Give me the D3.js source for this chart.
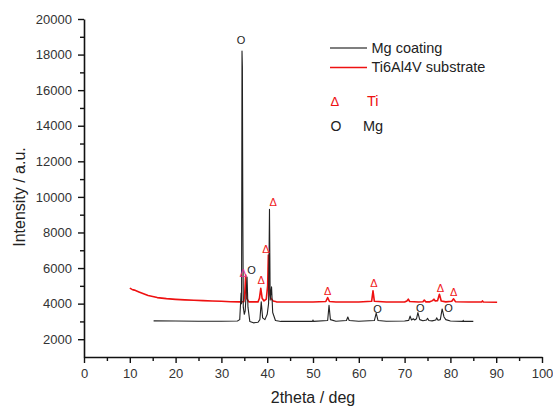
<!DOCTYPE html>
<html>
<head>
<meta charset="utf-8">
<script src="https://cdn.jsdelivr.net/npm/d3@7"></script>
<style>
  body { margin: 0; background: #fff; }
  svg { display: block; font-family: "Liberation Sans", Arial, sans-serif; }
</style>
</head>
<body>
<svg id="chart" width="553" height="407"></svg>
<script>
// ---- Data ----
const coatingTheta = [15.2, 20, 25, 30, 33.5, 34.0, 34.3, 34.4, 34.5, 34.58, 34.68, 34.78, 35.0, 35.2, 35.6, 35.8, 36.2, 37, 38.0, 38.4, 38.7, 39.0, 39.5, 40.0, 40.3, 40.5, 40.65, 40.95, 41.2, 41.8, 43, 49.9, 50.0, 50.1, 53.2, 53.5, 53.8, 55, 57.3, 57.6, 57.9, 60, 63.4, 63.8, 64.2, 66, 70, 70.9, 71.2, 71.5, 71.9, 72.2, 72.6, 72.9, 73.3, 74, 74.8, 75.0, 75.3, 76, 76.8, 77.0, 77.3, 77.8, 78.2, 78.6, 79.0, 80, 82.7, 82.8, 82.9, 85];
const coatingIntensity = [3030, 3020, 3010, 3010, 3020, 3100, 4600, 4000, 18200, 17300, 8800, 3800, 3400, 3600, 5500, 3800, 3000, 2920, 2950, 3100, 4100, 3200, 3100, 3400, 4000, 9300, 4200, 4950, 3500, 3050, 3000, 3000, 3080, 3000, 3050, 3900, 3100, 3010, 3050, 3250, 3050, 3010, 3050, 3470, 3050, 3010, 3020, 3060, 3300, 3080, 3150, 3080, 3150, 3500, 3100, 3040, 3080, 3180, 3050, 3030, 3080, 3200, 3070, 3100, 3700, 3250, 3100, 3020, 3000, 3060, 3000, 3000];

const substrateTheta = [10.0, 10.5, 11, 12, 13, 14, 15, 16, 17, 18, 20, 22, 24, 26, 28, 30, 32, 34, 34.9, 35.1, 35.3, 35.5, 36, 38, 38.3, 38.6, 38.9, 39.3, 39.8, 40.1, 40.25, 40.45, 40.8, 41.3, 42, 45, 50, 52.8, 53.2, 53.6, 55, 60, 62.8, 63.1, 63.4, 66, 70, 70.5, 70.8, 71.1, 73, 74.0, 74.3, 74.6, 75.5, 76.1, 76.4, 76.7, 77.2, 77.6, 78.0, 79, 80.3, 80.7, 81.1, 84, 86.8, 87.0, 87.2, 90.2];
const substrateIntensity = [4870, 4800, 4760, 4660, 4560, 4460, 4400, 4340, 4310, 4280, 4240, 4210, 4190, 4170, 4150, 4130, 4110, 4100, 4110, 4600, 5600, 4300, 4100, 4100, 4300, 4860, 4300, 4150, 4250, 5000, 6730, 4600, 4300, 4150, 4100, 4090, 4090, 4120, 4340, 4120, 4090, 4090, 4130, 4720, 4130, 4090, 4090, 4150, 4250, 4120, 4090, 4110, 4200, 4100, 4100, 4170, 4250, 4150, 4170, 4530, 4150, 4100, 4130, 4270, 4110, 4090, 4090, 4150, 4090, 4080];

const tiMarkTheta = [34.75, 38.7, 39.7, 41.3, 53.2, 63.3, 77.8, 80.7];
const tiMarkIntensity = [5730, 5330, 7060, 9700, 4680, 5150, 4900, 4640];
const tiMarkColor = ["#e0308c", "#f02020", "#f02020", "#f02020", "#f02020", "#f02020", "#f02020", "#f02020"];
const mgMarkTheta = [34.3, 36.6, 64.1, 73.4, 79.6];
const mgMarkIntensity = [18820, 5870, 3690, 3780, 3780];

const xTicks = [0, 10, 20, 30, 40, 50, 60, 70, 80, 90, 100];
const xMinorTicks = [5, 15, 25, 35, 45, 55, 65, 75, 85, 95];
const yTicks = [2000, 4000, 6000, 8000, 10000, 12000, 14000, 16000, 18000, 20000];
const yMinorTicks = [3000, 5000, 7000, 9000, 11000, 13000, 15000, 17000, 19000];

const seriesNames = ["Mg coating", "Ti6Al4V substrate"];
const seriesColors = ["#222222", "#ee1111"];
const legendLineColors = ["#555555", "#ee1111"];

// ---- Drawing ----
const svg = d3.select("#chart");
const x = d3.scaleLinear().domain([0, 100]).range([84, 542]);
const y = d3.scaleLinear().domain([1000, 20000]).range([357, 19]);

const line = d3.line().x(d => x(d[0])).y(d => y(d[1]));

const coating = coatingTheta.map((t, i) => [t, coatingIntensity[i]]);
const substrate = substrateTheta.map((t, i) => [t, substrateIntensity[i]]);

svg.append("path").datum(substrate)
  .attr("d", line).attr("fill", "none")
  .attr("stroke", seriesColors[1]).attr("stroke-width", 1.6)
  .attr("stroke-linejoin", "round");
svg.append("path").datum(coating)
  .attr("d", line).attr("fill", "none")
  .attr("stroke", seriesColors[0]).attr("stroke-width", 1.1)
  .attr("stroke-linejoin", "round");

// axes
function styleAxis(g) {
  g.selectAll(".domain").attr("stroke", "#111").attr("stroke-width", 1.6);
  g.selectAll(".tick line").attr("stroke", "#111").attr("stroke-width", 1.4);
  g.selectAll(".tick text").attr("fill", "#333").attr("font-size", 13)
    .attr("font-family", "Liberation Sans, Arial, sans-serif");
}
const gxMinor = svg.append("g").attr("transform", "translate(0,357)")
  .call(d3.axisBottom(x).tickValues(xMinorTicks).tickSize(4).tickFormat(""));
gxMinor.select(".domain").remove();
gxMinor.selectAll(".tick line").attr("stroke", "#111").attr("stroke-width", 1.4);
const gyMinor = svg.append("g").attr("transform", "translate(84,0)")
  .call(d3.axisLeft(y).tickValues(yMinorTicks).tickSize(4).tickFormat(""));
gyMinor.select(".domain").remove();
gyMinor.selectAll(".tick line").attr("stroke", "#111").attr("stroke-width", 1.4);

svg.append("g").attr("transform", "translate(0,357)")
  .call(d3.axisBottom(x).tickValues(xTicks).tickSize(6).tickSizeOuter(0).tickPadding(6).tickFormat(d3.format("d")))
  .call(styleAxis);
svg.append("g").attr("transform", "translate(84,0)")
  .call(d3.axisLeft(y).tickValues(yTicks).tickSize(6).tickSizeOuter(0).tickPadding(6).tickFormat(d3.format("d")))
  .call(styleAxis);

// axis titles
svg.append("text").attr("x", 313).attr("y", 403).attr("text-anchor", "middle")
  .attr("font-size", 16).attr("fill", "#222").text("2theta / deg");
svg.append("text").attr("transform", "translate(25,197) rotate(-90)").attr("text-anchor", "middle")
  .attr("font-size", 16).attr("fill", "#222").text("Intensity / a.u.");

// peak markers
svg.selectAll("text.ti").data(tiMarkTheta).enter().append("text")
  .attr("class", "ti")
  .attr("x", (d, i) => x(d)).attr("y", (d, i) => y(tiMarkIntensity[i]))
  .attr("dy", "0.36em").attr("text-anchor", "middle")
  .attr("font-size", 11).attr("fill", (d, i) => tiMarkColor[i]).text("Δ");
svg.selectAll("text.mg").data(mgMarkTheta).enter().append("text")
  .attr("class", "mg")
  .attr("x", d => x(d)).attr("y", (d, i) => y(mgMarkIntensity[i]))
  .attr("dy", "0.36em").attr("text-anchor", "middle")
  .attr("font-size", 11).attr("fill", "#222").text("O");

// legend
const legY = [48, 67.5];
seriesNames.forEach((name, i) => {
  svg.append("line").attr("x1", 330).attr("x2", 367).attr("y1", legY[i]).attr("y2", legY[i])
    .attr("stroke", legendLineColors[i]).attr("stroke-width", 1.3);
  svg.append("text").attr("x", 371.5).attr("y", legY[i] + 4.5)
    .attr("font-size", 14.5).attr("fill", "#222").text(name);
});
svg.append("text").attr("x", 330.5).attr("y", 106).attr("font-size", 13).attr("fill", "#ee1111").text("Δ");
svg.append("text").attr("x", 367).attr("y", 106).attr("font-size", 14.5).attr("fill", "#ee1111").text("Ti");
svg.append("text").attr("x", 330.5).attr("y", 131).attr("font-size", 14).attr("fill", "#222").text("O");
svg.append("text").attr("x", 363).attr("y", 131).attr("font-size", 14.5).attr("fill", "#222").text("Mg");
</script>
</body>
</html>
